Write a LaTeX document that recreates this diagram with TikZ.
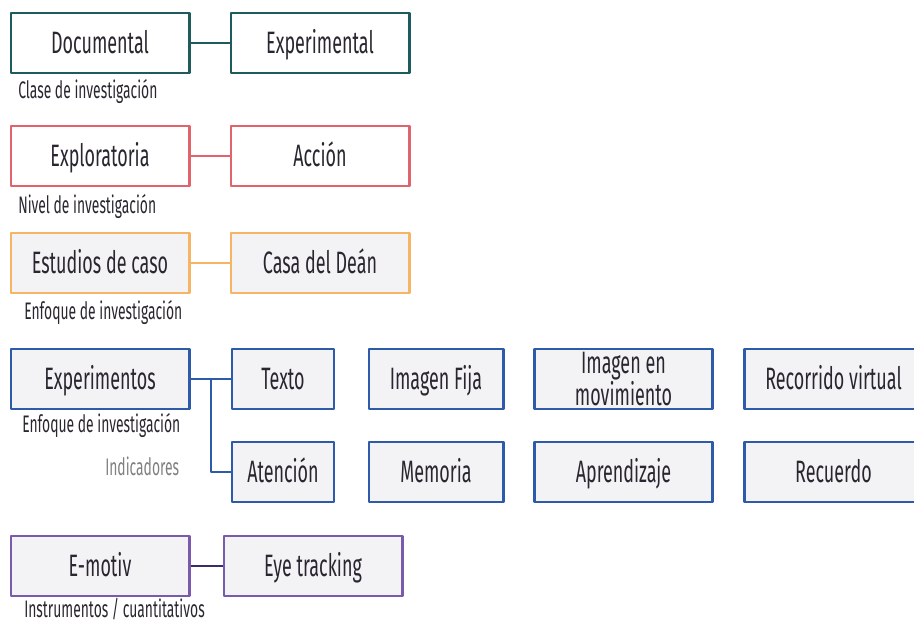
\documentclass[tikz,border=0pt]{standalone}
\usepackage{fontspec}
\setmainfont{Fira Sans}[FakeStretch=0.58]
\definecolor{teal1}{HTML}{1E5B5C}
\definecolor{red1}{HTML}{E1636B}
\definecolor{orange1}{HTML}{F5B565}
\definecolor{blue1}{HTML}{2D5BA9}
\definecolor{purple1}{HTML}{7A5AAA}
\definecolor{purple2}{HTML}{3B2B6B}
\definecolor{fill1}{HTML}{F3F3F5}
\definecolor{text1}{HTML}{2A2630}
\tikzset{
	box/.style={draw, line width=2.1pt, minimum height=1.5cm, minimum width=4.45cm,
		inner sep=2pt, text=text1, font=\fontsize{22}{23}\selectfont, align=center,
		text height=15.2pt, text depth=0pt},
	lbl/.style={anchor=west, inner sep=0pt, text=text1, font=\fontsize{17}{19}\selectfont,
		text height=11.7pt, text depth=0pt},
}
\begin{document}
\begin{tikzpicture}[x=0.025cm, y=-0.025cm, line join=round]
		\useasboundingbox (0,0) rectangle (914,623);
		% clase
		\node[box, draw=teal1, fill=white] (doc) at (100,43) {Documental};
		\node[box, draw=teal1, fill=white] (exper) at (320,43) {Experimental};
		\draw[teal1, line width=1.4pt] (doc) -- (exper);
		\node[lbl] (clase) at (18,90) {Clase de investigación};
		% nivel
		\node[box, draw=red1, fill=white] (explo) at (100,156) {Exploratoria};
		\node[box, draw=red1, fill=white] (accion) at (320,156) {Acción};
		\draw[red1, line width=1.4pt] (explo) -- (accion);
		\node[lbl] (nivel) at (18,205) {Nivel de investigación};
		% enfoque
		\node[box, draw=orange1, fill=fill1] (estud) at (100,263) {Estudios de caso};
		\node[box, draw=orange1, fill=fill1] (casa) at (320,263) {Casa del Deán};
		\draw[orange1, line width=2pt] (estud) -- (casa);
		\node[lbl] (enfoque) at (24,311) {Enfoque de investigación};
		% experimentos e indicadores
		\node[box, draw=blue1, fill=fill1] (exps) at (100,379) {Experimentos};
		\foreach \n/\x/\w/\t in {texto/283/2.55/Texto, imfija/436/3.35/Imagen Fija,
			recorr/833.5/4.45/Recorrido virtual}
		\node[box, draw=blue1, fill=fill1, minimum width=\w cm] (\n) at (\x,379) {\t};
		\node[box, draw=blue1, fill=fill1, text height=, text depth=,
			font=\fontsize{22}{23}\selectfont] (immov) at (623.5,379) {Imagen en\\movimiento};
		\foreach \n/\x/\w/\t in {atenc/283/2.55/Atención, memoria/436/3.35/Memoria,
			aprend/623.5/4.45/Aprendizaje, recuerdo/833.5/4.45/Recuerdo}
		\node[box, draw=blue1, fill=fill1, minimum width=\w cm] (\n) at (\x,472) {\t};
		\coordinate (br) at (211,379);
		\draw[blue1, line width=2pt] (exps) -- (texto) (br) |- (atenc.west);
		\node[lbl] (enfoque2) at (22,424) {Enfoque de investigación};
		\node[lbl, text=gray] (indic) at (105,467) {Indicadores};
		% instrumentos
		\node[box, draw=purple1, fill=fill1] (emotiv) at (100,566) {E-motiv};
		\node[box, draw=purple1, fill=fill1] (eyetr) at (313,566) {Eye tracking};
		\draw[purple2, line width=2pt] (emotiv) -- (eyetr);
		\node[lbl] (instr) at (24,609) {Instrumentos / cuantitativos};
	\end{tikzpicture}
\end{document}
